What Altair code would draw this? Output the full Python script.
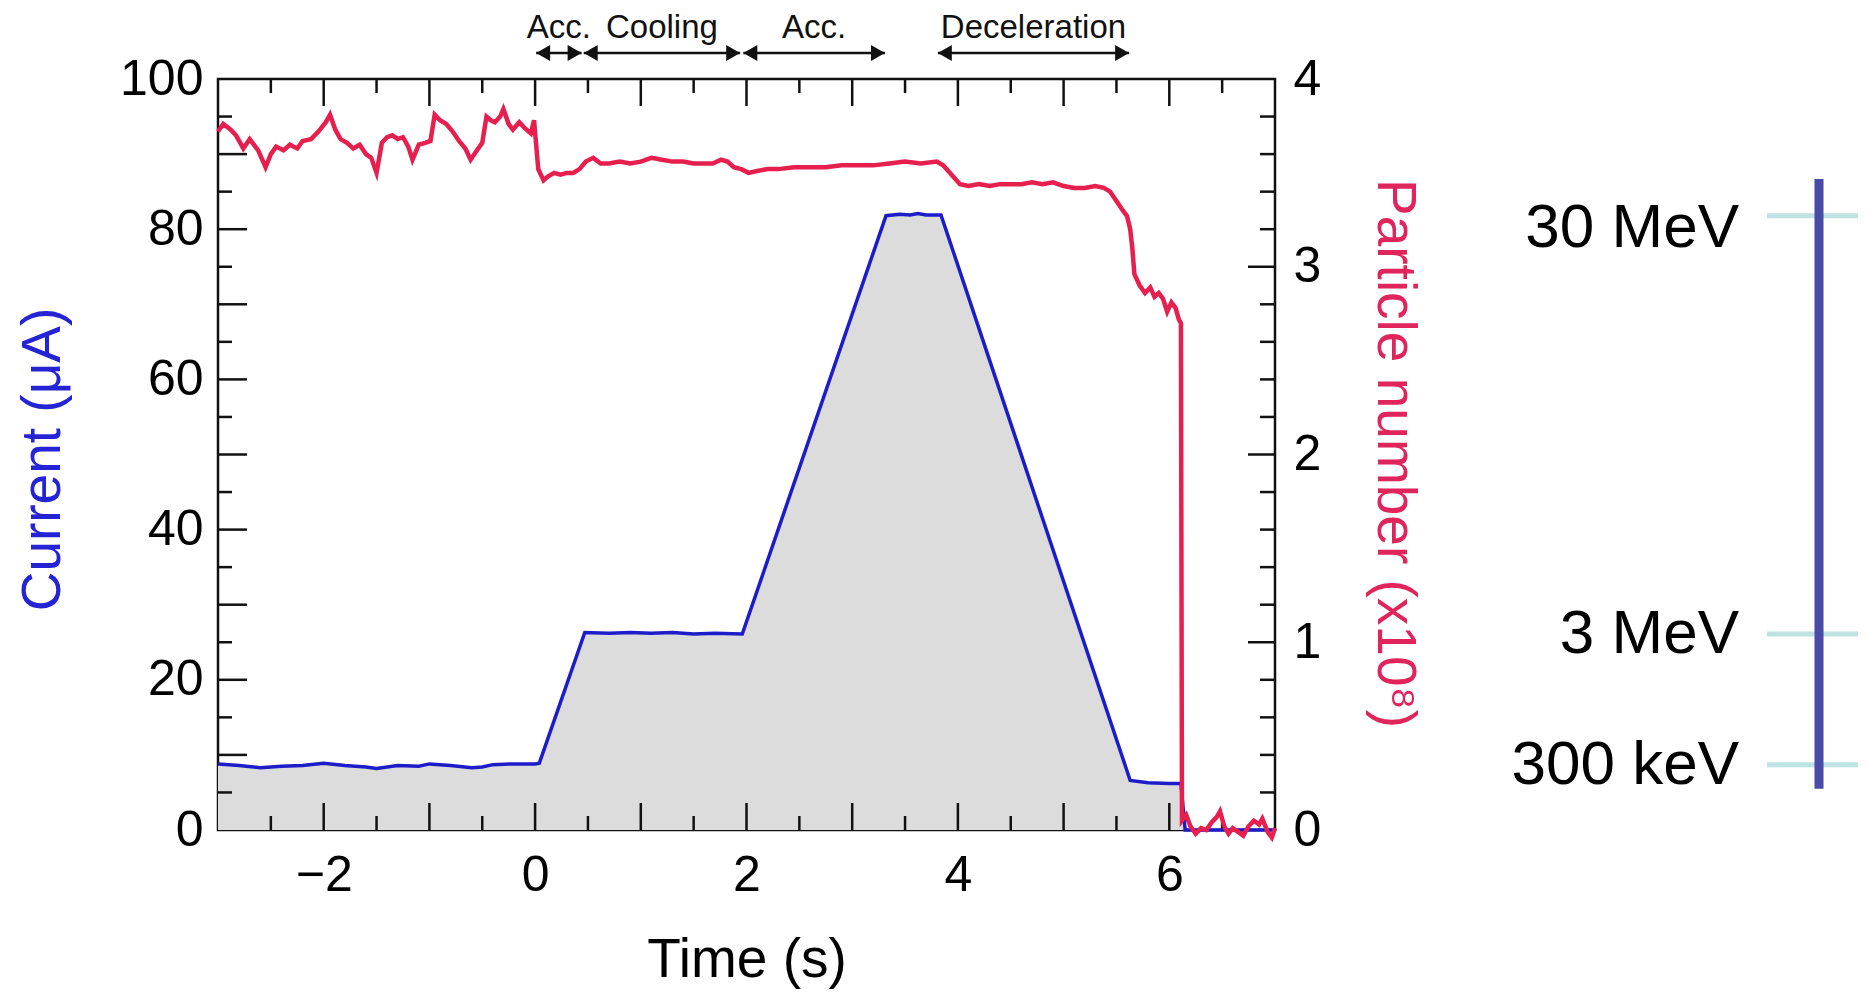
import altair as alt
import pandas as pd

# ---------------- data ----------------
cur_t = [-3.0, -2.8, -2.6, -2.4, -2.2, -2.0, -1.8, -1.6, -1.5, -1.3, -1.1, -1.0,
         -0.8, -0.6, -0.5, -0.4, -0.2, 0.0, 0.04, 0.47, 0.7, 0.9, 1.1, 1.3, 1.5,
         1.7, 1.96, 3.32, 3.45, 3.55, 3.62, 3.7, 3.84, 5.63, 5.8, 6.0, 6.11, 6.15, 7.0]
cur_I = [8.8, 8.6, 8.3, 8.5, 8.6, 8.9, 8.6, 8.4, 8.2, 8.6, 8.5, 8.8,
         8.6, 8.3, 8.4, 8.7, 8.8, 8.8, 8.9, 26.3, 26.2, 26.3, 26.2, 26.3, 26.1,
         26.2, 26.1, 81.8, 82.0, 81.9, 82.1, 81.9, 81.9, 6.6, 6.3, 6.2, 6.2, 0.0, 0.0]

num_t = [-3.00, -2.95, -2.88, -2.83, -2.76, -2.70, -2.62, -2.55, -2.50, -2.45, -2.38,
         -2.32, -2.25, -2.20, -2.12, -2.05, -1.98, -1.94, -1.89, -1.84, -1.78, -1.72,
         -1.66, -1.60, -1.55, -1.50, -1.45, -1.40, -1.35, -1.30, -1.25, -1.20, -1.16,
         -1.10, -1.04, -0.99, -0.95, -0.90, -0.84, -0.78, -0.72, -0.66, -0.61, -0.55,
         -0.50, -0.46, -0.42, -0.38, -0.33, -0.30, -0.25, -0.21, -0.15, -0.10, -0.04,
         -0.01, 0.03, 0.08, 0.12, 0.18, 0.24, 0.30, 0.36, 0.42, 0.48, 0.55, 0.62,
         0.70, 0.80, 0.90, 1.00, 1.10, 1.20, 1.30, 1.40, 1.50, 1.60, 1.68, 1.76,
         1.82, 1.88, 1.95, 2.02, 2.10, 2.20, 2.30, 2.45, 2.60, 2.75, 2.90, 3.05,
         3.20, 3.35, 3.50, 3.65, 3.80, 3.86, 3.94, 4.02, 4.10, 4.20, 4.30, 4.40,
         4.50, 4.60, 4.70, 4.80, 4.90, 5.00, 5.10, 5.20, 5.30, 5.38, 5.44, 5.50,
         5.56, 5.60, 5.63, 5.65, 5.67, 5.72, 5.77, 5.82, 5.86, 5.90, 5.94, 5.98,
         6.02, 6.06, 6.09, 6.11, 6.12, 6.16, 6.20, 6.25, 6.30, 6.35, 6.40, 6.45,
         6.48, 6.52, 6.56, 6.60, 6.65, 6.70, 6.75, 6.80, 6.85, 6.88, 6.93, 6.97, 7.00]
num_N = [3.72, 3.76, 3.73, 3.70, 3.63, 3.68, 3.62, 3.53, 3.60, 3.64, 3.62,
         3.65, 3.63, 3.67, 3.68, 3.72, 3.77, 3.81, 3.73, 3.68, 3.66, 3.63,
         3.65, 3.60, 3.58, 3.50, 3.66, 3.69, 3.70, 3.68, 3.69, 3.64, 3.57,
         3.65, 3.66, 3.67, 3.81, 3.78, 3.76, 3.72, 3.67, 3.63, 3.57, 3.62,
         3.66, 3.80, 3.78, 3.77, 3.80, 3.84, 3.76, 3.73, 3.77, 3.74, 3.71,
         3.78, 3.52, 3.46, 3.48, 3.50, 3.49, 3.50, 3.50, 3.52, 3.56, 3.58, 3.55,
         3.55, 3.56, 3.55, 3.56, 3.58, 3.57, 3.56, 3.56, 3.55, 3.55, 3.55, 3.57,
         3.56, 3.53, 3.52, 3.50, 3.51, 3.52, 3.52, 3.53, 3.53, 3.53, 3.54, 3.54,
         3.54, 3.55, 3.56, 3.55, 3.56, 3.54, 3.49, 3.44, 3.43, 3.44, 3.43, 3.44,
         3.44, 3.44, 3.45, 3.44, 3.45, 3.43, 3.42, 3.42, 3.43, 3.42, 3.40, 3.35,
         3.30, 3.27, 3.20, 3.10, 2.96, 2.90, 2.86, 2.89, 2.84, 2.86, 2.83, 2.76,
         2.81, 2.78, 2.72, 2.70, 0.05, 0.08, 0.02, -0.02, 0.01, 0.00, 0.04, 0.07,
         0.10, 0.02, -0.02, 0.01, -0.01, -0.03, 0.02, 0.05, 0.03, 0.06, -0.01, -0.04, 0.01]

x_labels = [-2, 0, 2, 4, 6]
x_major = [-2, -1, 0, 1, 2, 3, 4, 5, 6]
x_minor = [-2.5, -1.5, -0.5, 0.5, 1.5, 2.5, 3.5, 4.5, 5.5, 6.5]
yI_labels = [0, 20, 40, 60, 80, 100]
yI_major = [10, 20, 30, 40, 50, 60, 70, 80, 90]
yI_minor = [5, 15, 25, 35, 45, 55, 65, 75, 85, 95]
yN_labels = [0, 1, 2, 3, 4]
yN_major = [1, 2, 3]
yN_minor = [0.2, 0.4, 0.6, 0.8, 1.2, 1.4, 1.6, 1.8, 2.2, 2.4, 2.6, 2.8,
            3.2, 3.4, 3.6, 3.8]

phase_names = ["Acc.", "Cooling", "Acc.", "Deceleration"]
phase_start = [0.01, 0.46, 1.97, 3.81]
phase_end = [0.44, 1.94, 3.31, 5.62]

energy_names = ["30 MeV", "3 MeV", "300 keV"]
energy_current = [81.8, 26.1, 8.7]
energy_bar_top = [86.7]
energy_bar_bottom = [5.5]

# ---------------- styling ----------------
W, H = 1057, 751
FONT = "Liberation Sans, Arial, Helvetica, sans-serif"
BLUE = "#1c1cc9"
BLUE_T = "#2424d4"
RED = "#e61f4e"
RED_T = "#e0245c"
GRAY = "#dcdcdc"
INK = "#111111"
CYAN = "#bfe3e3"
BAR = "#4a4aa8"
MAJ, MIN = 27, 14

cur_df = pd.DataFrame({"t": cur_t, "I": cur_I})
num_df = pd.DataFrame({"t": num_t, "N": num_N})

xs = alt.Scale(domain=[-3, 7], nice=False, zero=False)
ys_I = alt.Scale(domain=[0, 100], nice=False)
ys_N = alt.Scale(domain=[0, 4], nice=False)

x_axis = alt.Axis(values=x_labels, format="d", title="Time (s)", orient="bottom",
                  ticks=False, tickSize=0,
                  domain=False, grid=False, labelFontSize=50, labelFont=FONT,
                  labelColor="#000", labelPadding=20, labelFlush=False,
                  titleFontSize=55, titleFont=FONT, titleFontWeight="normal",
                  titleColor="#000", titleY=129, titleBaseline="middle")
yI_axis = alt.Axis(values=yI_labels, format="d", title="Current (μA)", orient="left",
                   ticks=False, tickSize=0, domain=False, grid=False,
                   labelFontSize=50, labelFont=FONT, labelColor="#000",
                   labelPadding=15, labelFlush=False,
                   titleFontSize=55, titleFont=FONT, titleFontWeight="normal",
                   titleColor=BLUE_T, titleAngle=270, titleX=-176, titleY=380,
                   titleAlign="center", titleBaseline="middle")
yN_axis = alt.Axis(values=yN_labels, format="d", title="Particle number (x10⁸)",
                   orient="right",
                   ticks=False, tickSize=0, domain=False, grid=False,
                   labelFontSize=50, labelFont=FONT, labelColor="#000",
                   labelPadding=18, labelFlush=False,
                   titleFontSize=55, titleFont=FONT, titleFontWeight="normal",
                   titleColor=RED_T, titleAngle=90, titleX=119, titleY=374,
                   titleAlign="center", titleBaseline="middle")

area = alt.Chart(cur_df).mark_area(color=GRAY).encode(
    x=alt.X("t:Q", scale=xs, axis=x_axis),
    y=alt.Y("I:Q", scale=ys_I, axis=yI_axis),
)
blue = alt.Chart(cur_df).mark_line(color=BLUE, strokeWidth=3.5).encode(
    x=alt.X("t:Q", scale=xs),
    y=alt.Y("I:Q", scale=ys_I),
)


def xticks(vals, length, top):
    df = pd.DataFrame({"t": vals})
    if top:
        yy, yy2 = alt.value(0), alt.value(length)
    else:
        yy, yy2 = alt.value(H), alt.value(H - length)
    return alt.Chart(df).mark_rule(color=INK, strokeWidth=2.5).encode(
        x=alt.X("t:Q", scale=xs), y=yy, y2=yy2)


def yticks(vals, length, field, scale, right):
    df = pd.DataFrame({field: vals})
    if right:
        xx, xx2 = alt.value(W), alt.value(W - length)
    else:
        xx, xx2 = alt.value(0), alt.value(length)
    return alt.Chart(df).mark_rule(color=INK, strokeWidth=2.5).encode(
        y=alt.Y(f"{field}:Q", scale=scale), x=xx, x2=xx2)


phase_df = pd.DataFrame({"name": phase_names, "start": phase_start, "end": phase_end})
arrows = alt.Chart(phase_df).mark_rule(color=INK, strokeWidth=2.5).encode(
    x=alt.X("start:Q", scale=xs), x2="end:Q", y=alt.value(-26))
head_l = alt.Chart(phase_df).mark_point(shape="triangle-left", filled=True, size=260,
                                        color=INK, opacity=1, xOffset=7).encode(
    x=alt.X("start:Q", scale=xs), y=alt.value(-26))
head_r = alt.Chart(phase_df).mark_point(shape="triangle-right", filled=True, size=260,
                                        color=INK, opacity=1, xOffset=-7).encode(
    x=alt.X("end:Q", scale=xs), y=alt.value(-26))
phase_txt = alt.Chart(phase_df).transform_calculate(
    mid="(datum.start + datum.end) / 2").mark_text(
    fontSize=33, font=FONT, color=INK, align="center", baseline="middle").encode(
    x=alt.X("mid:Q", scale=xs), y=alt.value(-51), text="name:N")

en_df = pd.DataFrame({"name": energy_names, "I": energy_current})
bar_df = pd.DataFrame({"I": energy_bar_top, "I2": energy_bar_bottom})
en_lines = alt.Chart(en_df).mark_rule(color=CYAN, strokeWidth=5).encode(
    y=alt.Y("I:Q", scale=ys_I), x=alt.value(1549), x2=alt.value(1670))
en_bar = alt.Chart(bar_df).mark_rule(color=BAR, strokeWidth=9).encode(
    y=alt.Y("I:Q", scale=ys_I), y2="I2:Q", x=alt.value(1601))
en_txt_top = alt.Chart(en_df).transform_filter(
    alt.datum.name == energy_names[0]).mark_text(
    fontSize=62, font=FONT, color="#000", align="right", baseline="middle", dy=12).encode(
    y=alt.Y("I:Q", scale=ys_I), x=alt.value(1521), text="name:N")
en_txt = alt.Chart(en_df).transform_filter(
    alt.datum.name != energy_names[0]).mark_text(
    fontSize=62, font=FONT, color="#000", align="right", baseline="middle").encode(
    y=alt.Y("I:Q", scale=ys_I), x=alt.value(1521), text="name:N")

left = alt.layer(
    area,
    xticks(x_major, MAJ, False), xticks(x_minor, MIN, False),
    xticks(x_major, MAJ, True), xticks(x_minor, MIN, True),
    yticks(yI_major, 29, "I", ys_I, False), yticks(yI_minor, MIN, "I", ys_I, False),
    blue,
    arrows, head_l, head_r, phase_txt,
    en_lines, en_bar, en_txt_top, en_txt,
)

red = alt.Chart(num_df).mark_line(color=RED, strokeWidth=4.5).encode(
    x=alt.X("t:Q", scale=xs),
    y=alt.Y("N:Q", scale=ys_N, axis=yN_axis),
)
right = alt.layer(
    red,
    yticks(yN_major, MAJ, "N", ys_N, True), yticks(yN_minor, MIN + 1, "N", ys_N, True),
)

chart = alt.layer(left, right).resolve_scale(y="independent").properties(
    width=W, height=H,
    autosize=alt.AutoSizeParams(type="none"),
    padding={"left": 210, "top": 71, "right": 583, "bottom": 161},
    background="white",
).configure(font=FONT).configure_view(stroke=INK, strokeWidth=2.5)

chart.save("out.html", embed_options={"renderer": "svg", "actions": False})
